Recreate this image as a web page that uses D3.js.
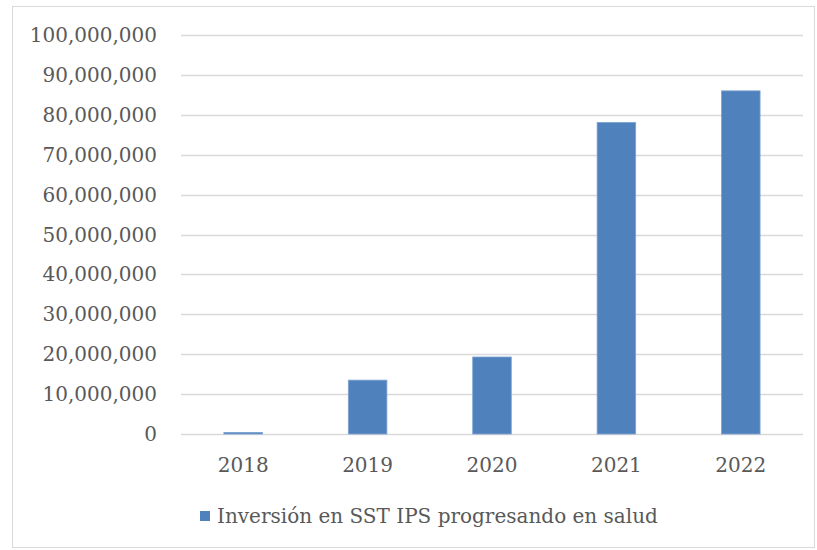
<!DOCTYPE html>
<html><head><meta charset="utf-8">
<script src="https://cdn.jsdelivr.net/npm/d3@7"></script>
<style>body{margin:0;background:#fff;}svg{display:block;}</style>
</head><body>
<script>
const categories = ["2018","2019","2020","2021","2022"];
const values = [400000, 13500000, 19300000, 78100000, 86000000];
const yTicks = [0,10000000,20000000,30000000,40000000,50000000,60000000,70000000,80000000,90000000,100000000];
const seriesName = "Inversión en SST IPS progresando en salud";

const W = 817, H = 550;
const svg = d3.select("body").append("svg").attr("width", W).attr("height", H);
const font = "'DejaVu Serif', serif";
svg.append("rect").attr("x",12.5).attr("y",6.5).attr("width",802).attr("height",541)
  .attr("fill","#fff").attr("stroke","#d9d9d9");

const x = d3.scaleBand().domain(categories).range([181, 803]).paddingInner(0.69).paddingOuter(0.345);
const y = d3.scaleLinear().domain([0, 100000000]).range([434, 35]);

const fmt = d3.format(",");
svg.append("g").selectAll("line").data(yTicks).join("line")
  .attr("x1",181).attr("x2",803).attr("y1",d=>Math.round(y(d))+0.5).attr("y2",d=>Math.round(y(d))+0.5)
  .attr("stroke","#d9d9d9").attr("stroke-width",1.5);
svg.append("g").selectAll("text").data(yTicks).join("text")
  .attr("x",157).attr("y",d=>y(d)).attr("dy","0.35em").attr("text-anchor","end")
  .attr("font-family",font).attr("font-size",20).attr("fill","#595959").text(d=>fmt(d));

svg.append("g").selectAll("rect").data(values).join("rect")
  .attr("x",(d,i)=>x(categories[i])).attr("width",x.bandwidth())
  .attr("y",d=>y(d)).attr("height",d=>y(0)-y(d))
  .attr("fill","#4f81bd").attr("stroke","#7ea3d3").attr("stroke-width",0.8);

svg.append("g").selectAll("text").data(categories).join("text")
  .attr("x",d=>x(d)+x.bandwidth()/2).attr("y",465).attr("dy","0.35em").attr("text-anchor","middle")
  .attr("font-family",font).attr("font-size",20).attr("fill","#595959").text(d=>d);

const lg = svg.append("g");
lg.append("rect").attr("x",200).attr("y",511).attr("width",10).attr("height",10).attr("fill","#4f81bd");
lg.append("text").attr("x",217).attr("y",516).attr("dy","0.35em")
  .attr("font-family",font).attr("font-size",20).attr("fill","#595959").text(seriesName);
</script>
</body></html>
